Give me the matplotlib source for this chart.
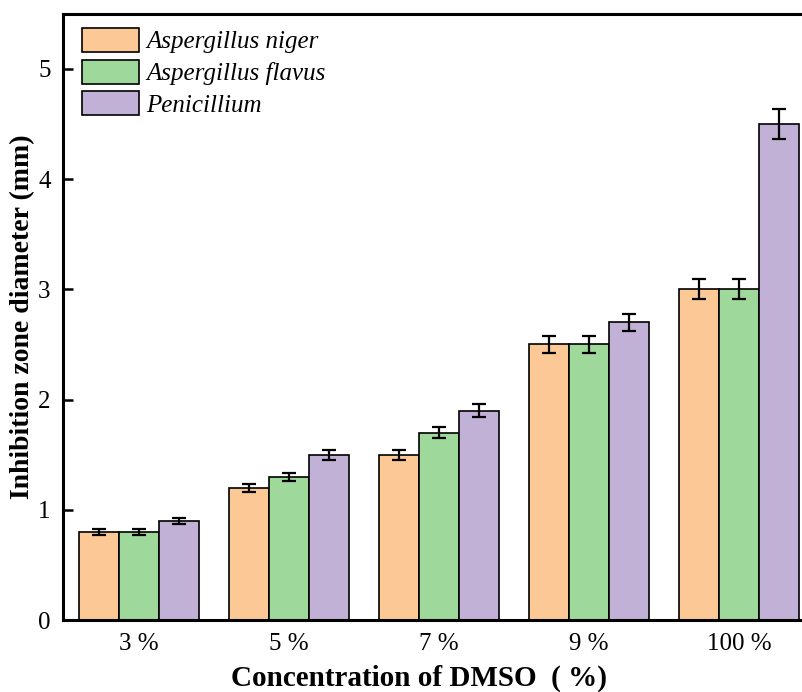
import numpy as np
import matplotlib
matplotlib.use("Agg")
import matplotlib.pyplot as plt

plt.rcParams['font.family'] = ['Liberation Serif', 'Noto Sans CJK SC']
plt.rcParams['mathtext.fontset'] = 'stix'

concentrations = ["3 %", "5 %", "7 %", "9 %", "100 %"]
species = ["Aspergillus niger", "Aspergillus flavus", "Penicillium"]
niger = [0.8, 1.2, 1.5, 2.5, 3.0]
flavus = [0.8, 1.3, 1.7, 2.5, 3.0]
penicillium = [0.9, 1.5, 1.9, 2.7, 4.5]
niger_err = [0.025, 0.035, 0.045, 0.075, 0.09]
flavus_err = [0.025, 0.035, 0.05, 0.075, 0.09]
penicillium_err = [0.025, 0.045, 0.06, 0.08, 0.135]

colors = ["#FCC896", "#9FD89B", "#C2B1D7"]

fig = plt.figure(figsize=(8.03, 6.92), dpi=100)
ax = fig.add_axes([0.0785, 0.104, 0.935, 0.876])

x = np.arange(len(concentrations))
w = 0.267
series = [(niger, niger_err), (flavus, flavus_err), (penicillium, penicillium_err)]
for i, (vals, errs) in enumerate(series):
    ax.bar(x + (i - 1) * w, vals, w, color=colors[i], edgecolor='black',
           linewidth=1.2, label=species[i], zorder=2)
    ax.errorbar(x + (i - 1) * w, vals, yerr=errs, fmt='none', ecolor='black',
                elinewidth=1.6, capsize=5, capthick=1.6, zorder=3)

ax.set_xlim(-0.507, 4.5)
ax.set_ylim(0, 5.5)
ax.set_xticks(x)
ax.set_xticklabels(concentrations)
ax.set_yticks([0, 1, 2, 3, 4, 5])
ax.tick_params(direction='in', length=7, width=1.8, labelsize=18, pad=9)
for s in ax.spines.values():
    s.set_linewidth(2.2)

ax.set_xlabel("Concentration of DMSO  ( %)", fontsize=21, fontweight='bold')
ax.xaxis.set_label_coords(0.474, -0.073)
ax.set_ylabel("Inhibition zone diameter (mm)", fontsize=20, fontweight='bold')
ax.yaxis.set_label_coords(-0.037, 0.5)

leg = ax.legend(loc='upper left', bbox_to_anchor=(19 / 751, 1 - 14 / 606),
                frameon=False, borderpad=0, borderaxespad=0,
                handlelength=2.28, handleheight=1.1, labelspacing=0.25,
                handletextpad=0.3, prop={'style': 'italic', 'size': 18})

fig.savefig("out.png", dpi=100)
